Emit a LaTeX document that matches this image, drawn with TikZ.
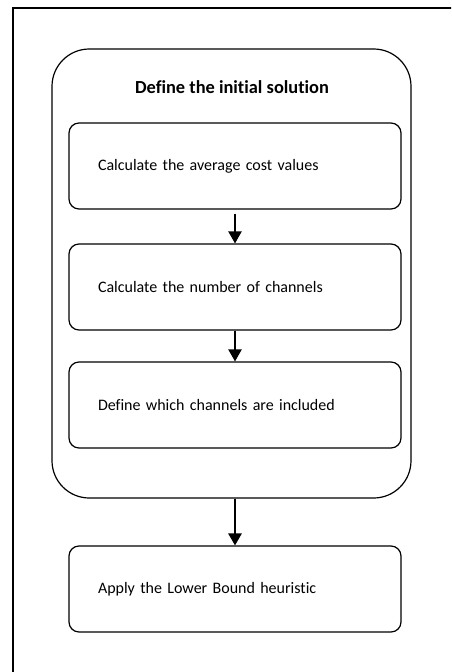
\documentclass[tikz,border=0pt]{standalone}
\usepackage{fontspec}
\setmainfont{Carlito}[Ligatures=NoCommon]
\usetikzlibrary{arrows.meta}

\begin{document}
\begin{tikzpicture}[x=0.75pt,y=-0.75pt,
	stepbox/.style={draw, line width=0.9pt, rounded corners=7.5pt, minimum height=64.5pt, text width=205.5pt, inner xsep=21.75pt, align=left, font=\fontsize{12}{14}\selectfont},
	solbox/.style={draw, line width=0.9pt, rounded corners=28pt, minimum width=269.25pt, minimum height=336.75pt},
	flow/.style={-{Triangle[length=9pt,width=10pt]}, line width=0.9pt}]

	\clip	(0,0)	rectangle	(451,672);

	\draw[line width=1.1pt]	(13,8)	rectangle	(470,690);



	\node 	(sol)		at	(231.5,273.5) 	[solbox]{};

	\node 	(title)		at	(232,87) 	[font=\fontsize{13.8}{16}\selectfont\bfseries]{Define the initial solution};


	\node 	(avg)		at	(235,166) 	[stepbox]{Calculate the average cost values};

	\node 	(num)		at	(235,287) 	[stepbox]{Calculate the number of channels};

	\node 	(inc)		at	(235,405) 	[stepbox]{Define which channels are included};


	\node 	(lb)		at	(235,589) 	[stepbox]{Apply the Lower Bound heuristic};


	\draw[flow, shorten <=3pt]	(avg)	to	(num);
	\draw[flow]	(num)	to	(inc);
	\draw[flow, line width=1.5pt]	(sol.south -| lb.north)	to	(lb.north);


\end{tikzpicture}
\end{document}
